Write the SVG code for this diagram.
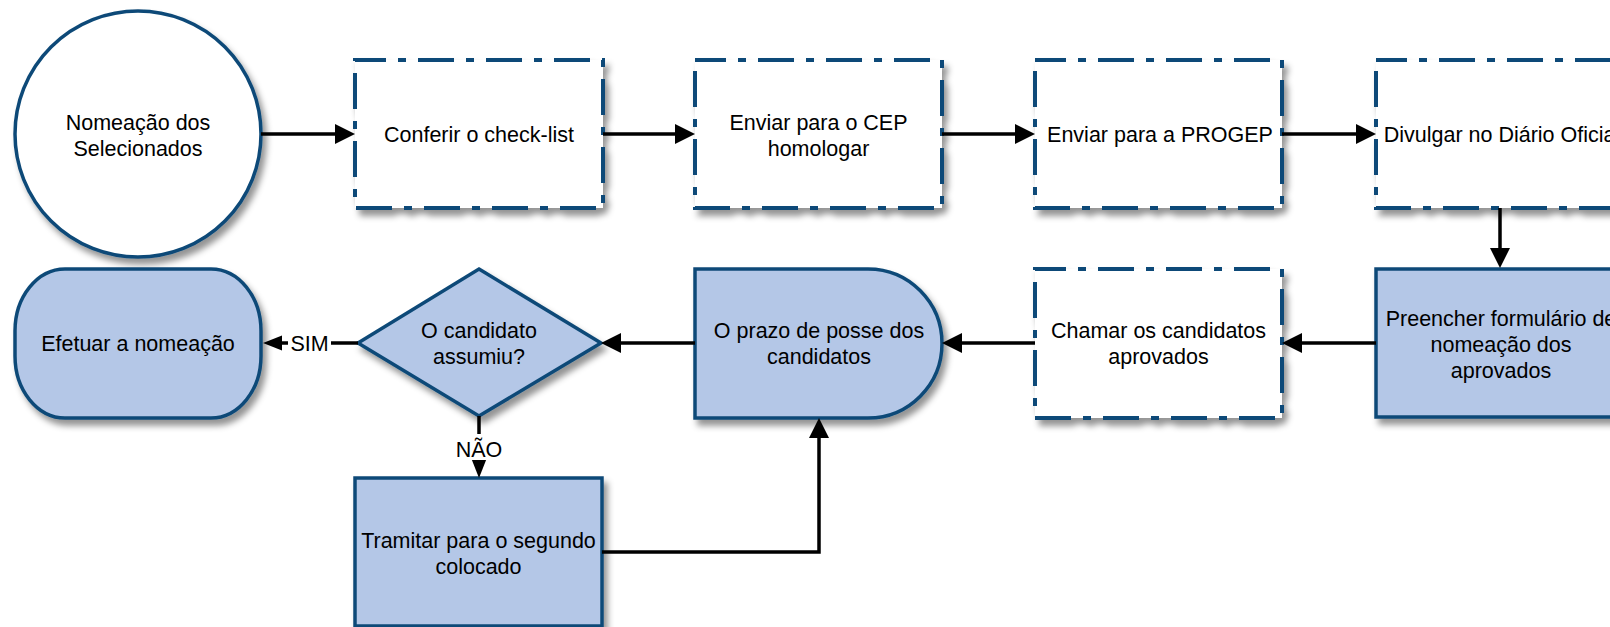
<svg xmlns="http://www.w3.org/2000/svg" width="1610" height="627" viewBox="0 0 1610 627">
<defs>
<filter id="sh" x="-10%" y="-10%" width="125%" height="130%">
<feDropShadow dx="4" dy="6" stdDeviation="3" flood-color="#000" flood-opacity="0.42"/>
</filter>
<marker id="ah" markerUnits="userSpaceOnUse" markerWidth="20" markerHeight="20" refX="2" refY="10" orient="auto" overflow="visible">
<path d="M0,0 L20,10 L0,20 Z" fill="#000"/>
</marker>
<marker id="as" markerUnits="userSpaceOnUse" markerWidth="19" markerHeight="15" refX="2" refY="7.5" orient="auto" overflow="visible">
<path d="M0,0 L19,7.5 L0,15 Z" fill="#000"/>
</marker>
</defs>
<style>
.dash{fill:#fff;stroke:#0E4A78;stroke-width:4;stroke-dasharray:36 12 8 12;stroke-dashoffset:5;filter:url(#sh)}
.solid{fill:#B4C7E7;stroke:#0E4A78;stroke-width:3.5;filter:url(#sh)}
.white{fill:#fff;stroke:#0E4A78;stroke-width:3.5;filter:url(#sh)}
text{font-family:"Liberation Sans",Arial,sans-serif;font-size:21.5px;fill:#000;text-anchor:middle}
.c{fill:none;stroke:#000;stroke-width:3.5}
</style>
<rect width="1610" height="627" fill="#fff"/>
<g id="n_inicio">
<circle class="white" cx="138" cy="134" r="123"/>
<text x="138" y="130">Nomeação dos</text>
<text x="138" y="156">Selecionados</text>
</g>
<g id="n_conferir">
<rect class="dash" x="355" y="60" width="248" height="148"/>
<text x="479" y="142">Conferir o check-list</text>
</g>
<g id="n_cep">
<rect class="dash" x="695" y="60" width="247" height="148"/>
<text x="818.5" y="130">Enviar para o CEP</text>
<text x="818.5" y="156">homologar</text>
</g>
<g id="n_progep">
<rect class="dash" x="1035" y="60" width="247" height="148"/>
<text x="1160" y="142">Enviar para a PROGEP</text>
</g>
<g id="n_divulgar">
<rect class="dash" x="1376" y="60" width="247" height="148"/>
<text x="1502" y="142">Divulgar no Diário Oficial</text>
</g>
<g id="n_preencher">
<rect class="solid" x="1376" y="269" width="250" height="148"/>
<text x="1501" y="326">Preencher formulário de</text>
<text x="1501" y="352">nomeação dos</text>
<text x="1501" y="378">aprovados</text>
</g>
<g id="n_chamar">
<rect class="dash" x="1035" y="269" width="247" height="149"/>
<text x="1158.5" y="338">Chamar os candidatos</text>
<text x="1158.5" y="364">aprovados</text>
</g>
<g id="n_prazo">
<path class="solid" d="M695,269 H868 A74,74.5 0 0 1 868,418 H695 Z"/>
<text x="819" y="338">O prazo de posse dos</text>
<text x="819" y="364">candidatos</text>
</g>
<g id="n_decisao">
<path class="solid" d="M479,269 L601,343 L479,416 L358,343 Z"/>
<text x="479" y="338">O candidato</text>
<text x="479" y="364">assumiu?</text>
</g>
<g id="n_efetuar">
<rect class="solid" x="15" y="269" width="246" height="149" rx="50" ry="62"/>
<text x="138" y="351">Efetuar a nomeação</text>
</g>
<g id="n_tramitar">
<rect class="solid" x="355" y="478" width="247" height="148"/>
<text x="478.5" y="548">Tramitar para o segundo</text>
<text x="478.5" y="574">colocado</text>
</g>
<g id="connectors">
<path class="c" d="M261,134 L337,134" marker-end="url(#ah)"/>
<path class="c" d="M603,134 L677,134" marker-end="url(#ah)"/>
<path class="c" d="M942,134 L1017,134" marker-end="url(#ah)"/>
<path class="c" d="M1282,134 L1358,134" marker-end="url(#ah)"/>
<path class="c" d="M1500,208 L1500,250" marker-end="url(#ah)"/>
<path class="c" d="M1376,343 L1300,343" marker-end="url(#ah)"/>
<path class="c" d="M1035,343 L960,343" marker-end="url(#ah)"/>
<path class="c" d="M695,343 L619,343" marker-end="url(#ah)"/>
<path class="c" d="M602,552 H819 V436" marker-end="url(#ah)"/>
<path class="c" d="M358,343 L280,343" marker-end="url(#as)"/>
<path class="c" d="M479,416 L479,461" marker-end="url(#as)"/>
<rect x="288" y="331" width="43" height="25" fill="#fff"/>
<text x="309.5" y="351">SIM</text>
<rect x="458" y="434" width="42" height="26" fill="#fff"/>
<text x="479" y="457">NÃO</text>
</g>
</svg>
